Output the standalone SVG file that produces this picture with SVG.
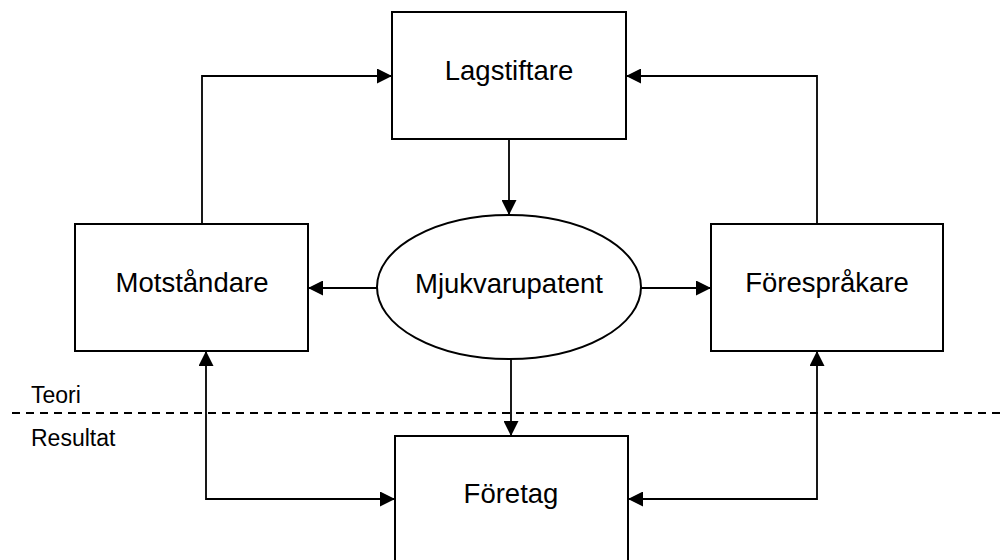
<svg xmlns="http://www.w3.org/2000/svg" width="1000" height="560" viewBox="0 0 1000 560">
  <style>
    .box { fill: #ffffff; stroke: #000000; stroke-width: 2; }
    .lbl { font-family: "Liberation Sans", Arial, sans-serif; font-size: 27.5px; fill: #000000; text-anchor: middle; }
    .small { font-family: "Liberation Sans", Arial, sans-serif; font-size: 23px; fill: #000000; }
    .conn { fill: none; stroke: #000000; stroke-width: 1.8; }
    .dash { fill: none; stroke: #000000; stroke-width: 1.8; stroke-dasharray: 8 6; }
  </style>
  <defs>
    <marker id="arrow" markerUnits="userSpaceOnUse" markerWidth="16" markerHeight="15" refX="15" refY="7.5" orient="auto-start-reverse">
      <path d="M0,0 L15,7.5 L0,15 Z" fill="#000000"/>
    </marker>
  </defs>
  <rect width="1000" height="560" fill="#ffffff"/>

  <g id="connectors">
    <path class="conn" d="M202,224 L202,76 L392,76" marker-end="url(#arrow)"/>
    <path class="conn" d="M817,224 L817,76 L626,76" marker-end="url(#arrow)"/>
    <path class="conn" d="M509,139 L509,215" marker-end="url(#arrow)"/>
    <path class="conn" d="M377,288 L308,288" marker-end="url(#arrow)"/>
    <path class="conn" d="M641,288 L711,288" marker-end="url(#arrow)"/>
    <path class="conn" d="M511,359 L511,436" marker-end="url(#arrow)"/>
    <path class="conn" d="M206,351 L206,499 L395,499" marker-start="url(#arrow)" marker-end="url(#arrow)"/>
    <path class="conn" d="M817,351 L817,499 L628,499" marker-start="url(#arrow)" marker-end="url(#arrow)"/>
  </g>

  <g id="divider">
    <line class="dash" x1="12" y1="413" x2="1000" y2="413"/>
    <text class="small" x="31" y="403">Teori</text>
    <text class="small" x="31" y="446">Resultat</text>
  </g>

  <g id="lagstiftare">
    <rect class="box" x="392" y="12" width="234" height="127"/>
    <text class="lbl" x="509" y="80">Lagstiftare</text>
  </g>
  <g id="motstandare">
    <rect class="box" x="75" y="224" width="233" height="127"/>
    <text class="lbl" x="192" y="292">Motståndare</text>
  </g>
  <g id="mjukvarupatent">
    <ellipse class="box" cx="509" cy="287" rx="132" ry="72"/>
    <text class="lbl" x="509" y="293">Mjukvarupatent</text>
  </g>
  <g id="forespraakare">
    <rect class="box" x="711" y="224" width="232" height="127"/>
    <text class="lbl" x="827" y="292">Förespråkare</text>
  </g>
  <g id="foretag">
    <rect class="box" x="395" y="436" width="233" height="140"/>
    <text class="lbl" x="511" y="503">Företag</text>
  </g>
</svg>
